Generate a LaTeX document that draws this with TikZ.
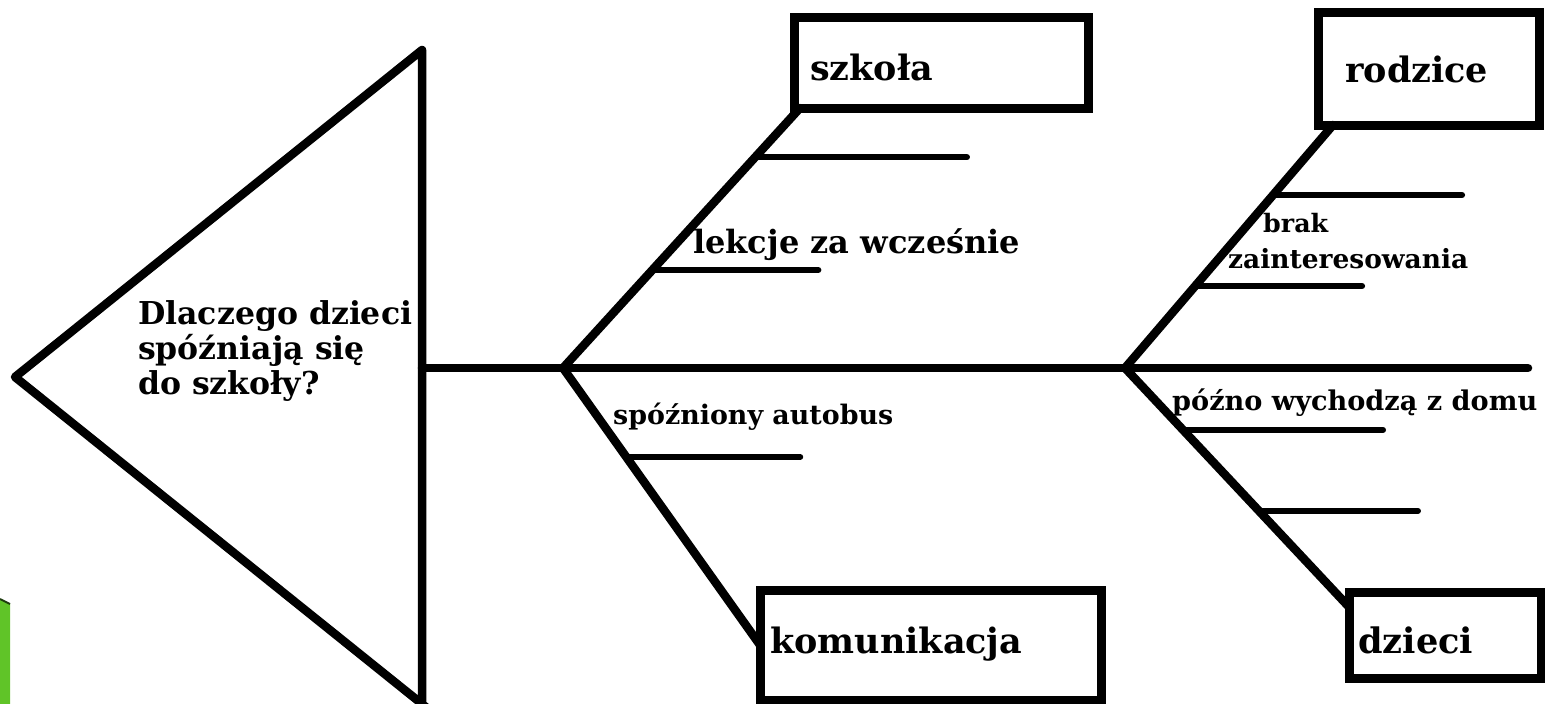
\documentclass[tikz,border=0pt]{standalone}
\usepackage{fontspec}
\setmainfont{DejaVu Serif}
\usetikzlibrary{calc}
\definecolor{leaf}{RGB}{96,196,40}
\definecolor{leafdark}{RGB}{30,60,15}
\newcommand{\fitw}[2]{\resizebox{#1}{!}{\bfseries #2}}
\begin{document}
\begin{tikzpicture}[x=1pt,y=-1pt,
  bone/.style={line width=8.5pt, line cap=round, line join=round},
  rib/.style={line width=6pt, line cap=round},
  boxst/.style={draw, line width=9pt, inner sep=0pt, outer sep=0pt, rectangle},
  lbl/.style={inner sep=0pt, anchor=base west},
]
\useasboundingbox (0,0) rectangle (1545,704);
\fill[white] (0,0) rectangle (1545,704);
% green corner
\fill[leaf] (0,599) -- (10,604) -- (10,704) -- (0,704) -- cycle;
\draw[leafdark, line width=2pt] (0,599) -- (10,604);
% head
\coordinate (apex) at (15,377);
\coordinate (htop) at (422,50);
\coordinate (hbotA) at (432,712);
\coordinate (hbotB) at (422,712);
\draw[bone] (hbotA) -- (apex) -- (htop) -- (hbotB);
\node[lbl] (q) at (138,324) {\resizebox{274pt}{!}{\bfseries\fontsize{10}{11.1}\selectfont
  \begin{tabular}[t]{@{}l@{}}Dlaczego dzieci\\ spóźniają się\\ do szkoły?\end{tabular}}};
% spine
\coordinate (neck) at (422,368);
\coordinate (j1) at (563,368);
\coordinate (j2) at (1125,368);
\coordinate (tail) at (1528,368);
\draw[bone] (neck) -- (tail);
% boxes
\node[boxst, minimum width=294pt, minimum height=91pt] (szkola) at (941,62.5) {};
\node[boxst, minimum width=221pt, minimum height=113pt] (rodz) at (1428.5,68.5) {};
\node[boxst, minimum width=341pt, minimum height=110pt] (kom) at (930.5,645) {};
\node[boxst, minimum width=192pt, minimum height=86pt] (dz) at (1445,635) {};
\node[lbl] (szkolaT) at (810,80) {\fitw{123pt}{szkoła}};
\node[lbl] (rodzT) at (1345,82) {\fitw{143pt}{rodzice}};
\node[lbl] (komT) at (770,653) {\fitw{252pt}{komunikacja}};
\node[lbl] (dzT) at (1358,653) {\fitw{115pt}{dzieci}};
% branches
\coordinate (b1) at ($(szkola.south west)+(6,0)$);
\coordinate (b2) at (kom.west);
\coordinate (b3) at ($(rodz.south west)+(15,0)$);
\coordinate (b4) at ($(dz.north west)+(0,15)$);
\draw[bone] (j1) -- (b1);
\draw[bone] (j1) -- (b2);
\draw[bone] (j2) -- (b3);
\draw[bone] (j2) -- (b4);
% ribs
\draw[rib] ($(j1)!0.81!(b1)$) -- ++(212,0);
\draw[rib] ($(j1)!0.377!(b1)$) -- ++(166,0);
\draw[rib] ($(j1)!0.321!(b2)$) -- ++(174,0);
\draw[rib] ($(j2)!0.712!(b3)$) -- ++(189,0);
\draw[rib] ($(j2)!0.337!(b3)$) -- ++(167,0);
\draw[rib] ($(j2)!0.259!(b4)$) -- ++(200,0);
\draw[rib] ($(j2)!0.598!(b4)$) -- ++(159,0);
% labels
\node[lbl] (l1) at (693,253) {\fitw{327pt}{lekcje za wcześnie}};
\node[lbl] (l2) at (613,424) {\fitw{280pt}{spóźniony autobus}};
\node[lbl] (l3) at (1263,232) {\fitw{65pt}{brak}};
\node[lbl] (l4) at (1228,268) {\fitw{240pt}{zainteresowania}};
\node[lbl] (l5) at (1172,410) {\fitw{365pt}{późno wychodzą z domu}};
\end{tikzpicture}
\end{document}
